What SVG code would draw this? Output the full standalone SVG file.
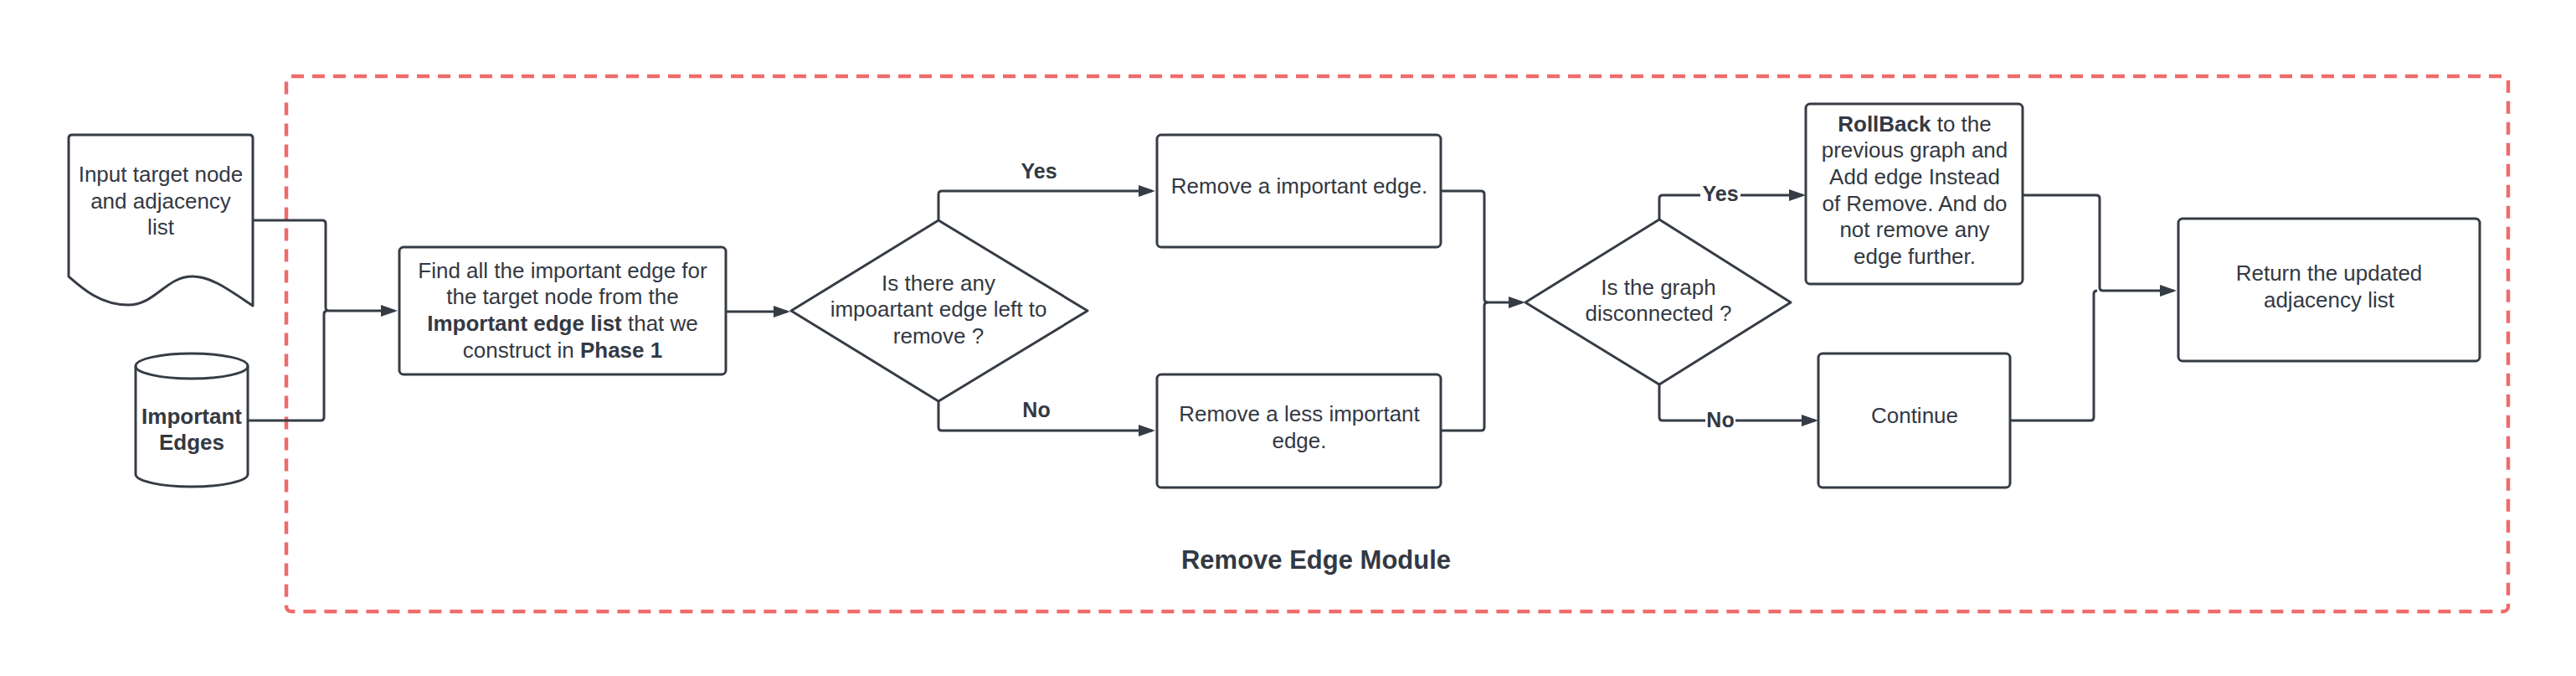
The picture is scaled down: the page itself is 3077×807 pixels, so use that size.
<svg xmlns="http://www.w3.org/2000/svg" width="3077" height="807" viewBox="0 0 3077 807">
<style>
.shape{fill:#fff;stroke:#363c45;stroke-width:3;stroke-linejoin:round}
.conn{fill:none;stroke:#363c45;stroke-width:3}
.t{font-family:"Liberation Sans",Arial,sans-serif;font-size:26px;fill:#333943;text-anchor:middle}
.b{font-weight:bold}
.title{font-family:"Liberation Sans",Arial,sans-serif;font-size:31px;font-weight:bold;fill:#333943;text-anchor:middle}
.lbl{font-family:"Liberation Sans",Arial,sans-serif;font-size:25px;font-weight:bold;fill:#333943;text-anchor:middle}
</style>
<defs>
<marker id="arr" markerUnits="userSpaceOnUse" markerWidth="20" markerHeight="14" refX="16" refY="7" orient="auto">
<path d="M0,0 L20,7 L0,14 Z" fill="#363c45"/>
</marker>
</defs>
<rect width="3077" height="807" fill="#fff"/>
<g id="module">
<rect x="342" y="91" width="2654" height="639" rx="6" fill="none" stroke="#ef6b6b" stroke-width="4.5" stroke-dasharray="15 10"/>
<text class="title" x="1572" y="679">Remove Edge Module</text>
</g>
<g id="connectors">
<path class="conn" d="M302,263 H385 Q389,263 389,267 V367 Q389,371 393,371 H471" marker-end="url(#arr)"/>
<path class="conn" d="M296,502 H383 Q387,502 387,498 V375 Q387,371 391,371"/>
<path class="conn" d="M867,372 H940" marker-end="url(#arr)"/>
<path class="conn" d="M1121,263 V232 Q1121,228 1125,228 H1376" marker-end="url(#arr)"/>
<path class="conn" d="M1121,479 V510 Q1121,514 1125,514 H1376" marker-end="url(#arr)"/>
<path class="conn" d="M1721,228 H1769 Q1773,228 1773,232 V357 Q1773,361 1777,361 H1818" marker-end="url(#arr)"/>
<path class="conn" d="M1721,514 H1769 Q1773,514 1773,510 V365 Q1773,361 1777,361"/>
<path class="conn" d="M1982,262 V237 Q1982,233 1986,233 H2153" marker-end="url(#arr)"/>
<path class="conn" d="M1982,459 V498 Q1982,502 1986,502 H2168" marker-end="url(#arr)"/>
<path class="conn" d="M2416,233 H2504 Q2508,233 2508,237 V343 Q2508,347 2512,347 H2596" marker-end="url(#arr)"/>
<path class="conn" d="M2401,502 H2497 Q2501,502 2501,498 V351 Q2501,347 2505,347"/>
<text class="lbl" x="1241" y="213">Yes</text>
<text class="lbl" x="1238" y="498">No</text>
<rect x="2031" y="217" width="48" height="26" fill="#fff"/>
<text class="lbl" x="2055" y="240">Yes</text>
<rect x="2037" y="488" width="36" height="26" fill="#fff"/>
<text class="lbl" x="2055" y="510">No</text>
</g>
<g id="input">
<path class="shape" d="M86,161 H298 Q302,161 302,165 V365 C272,345 252,330 230,330 C198,330 186,364 153,364 C120,364 98,344 82,330 V165 Q82,161 86,161 Z"/>
<text class="t" x="192" y="217">Input target node</text>
<text class="t" x="192" y="249">and adjacency</text>
<text class="t" x="192" y="280">list</text>
</g>
<g id="important-edges">
<path class="shape" d="M162,437 A67,15 0 0,1 296,437 V566 A67,15 0 0,1 162,566 Z"/>
<path class="conn" d="M162,437 A67,15 0 0,0 296,437"/>
<text class="t b" x="229" y="506">Important</text>
<text class="t b" x="229" y="537">Edges</text>
</g>
<g id="find">
<rect class="shape" x="477" y="295" width="390" height="152" rx="5"/>
<text class="t" x="672" y="332">Find all the important edge for</text>
<text class="t" x="672" y="363">the target node from the</text>
<text class="t" x="672" y="395"><tspan class="b">Important edge list</tspan> that we</text>
<text class="t" x="672" y="427">construct in <tspan class="b">Phase 1</tspan></text>
</g>
<g id="decision-left">
<path class="shape" d="M945,371 L1121,263 L1299,371 L1121,479 Z"/>
<text class="t" x="1121" y="347">Is there any</text>
<text class="t" x="1121" y="378">impoartant edge left to</text>
<text class="t" x="1121" y="410">remove ?</text>
</g>
<g id="remove-important">
<rect class="shape" x="1382" y="161" width="339" height="134" rx="5"/>
<text class="t" x="1552" y="231">Remove a important edge.</text>
</g>
<g id="remove-less">
<rect class="shape" x="1382" y="447" width="339" height="135" rx="5"/>
<text class="t" x="1552" y="503">Remove a less important</text>
<text class="t" x="1552" y="535">edge.</text>
</g>
<g id="decision-graph">
<path class="shape" d="M1822,361 L1982,262 L2139,361 L1982,459 Z"/>
<text class="t" x="1981" y="352">Is the graph</text>
<text class="t" x="1981" y="383">disconnected ?</text>
</g>
<g id="rollback">
<rect class="shape" x="2157" y="124" width="259" height="215" rx="5"/>
<text class="t" x="2287" y="157"><tspan class="b">RollBack</tspan> to the</text>
<text class="t" x="2287" y="188">previous graph and</text>
<text class="t" x="2287" y="220">Add edge Instead</text>
<text class="t" x="2287" y="252">of Remove. And do</text>
<text class="t" x="2287" y="283">not remove any</text>
<text class="t" x="2287" y="315">edge further.</text>
</g>
<g id="continue">
<rect class="shape" x="2172" y="422" width="229" height="160" rx="5"/>
<text class="t" x="2287" y="505">Continue</text>
</g>
<g id="return">
<rect class="shape" x="2602" y="261" width="360" height="170" rx="5"/>
<text class="t" x="2782" y="335">Return the updated</text>
<text class="t" x="2782" y="367">adjacency list</text>
</g>
</svg>
